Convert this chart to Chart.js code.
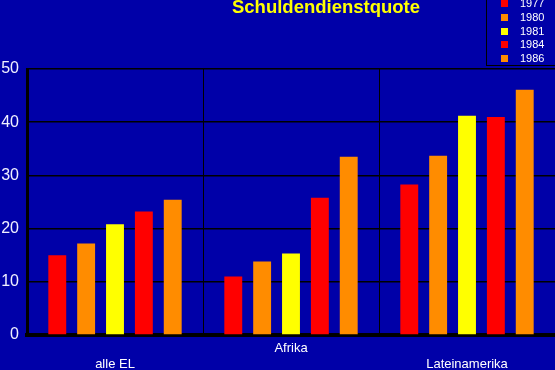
<!DOCTYPE html>
<html>
<head>
<meta charset="utf-8">
<script src="https://cdn.jsdelivr.net/npm/chart.js@4"></script>
<style>
  html, body { margin: 0; padding: 0; background: #0000A8; }
  #wrap { width: 555px; height: 370px; }
</style>
</head>
<body>
<div id="wrap"><canvas id="chart"></canvas></div>
<script>
const titel = 'Schuldendienstquote';
const regionen = ['alle EL', 'Afrika', 'Lateinamerika'];
const jahre = ['1977', '1980', '1981', '1984', '1986'];
const farben = ['#FF0000', '#FF8C00', '#FFFF00', '#FF0000', '#FF8C00'];

const werte1977 = [15.0, 11.0, 28.3];
const werte1980 = [17.2, 13.8, 33.7];
const werte1981 = [20.8, 15.3, 41.2];
const werte1984 = [23.2, 25.8, 41.0];
const werte1986 = [25.4, 33.5, 46.1];

const yTicks = [0, 10, 20, 30, 40, 50];

const alleWerte = [werte1977, werte1980, werte1981, werte1984, werte1986];

const datasets = jahre.map((jahr, i) => {
    return {
        label: jahr,
        data: alleWerte[i],
        backgroundColor: farben[i],
        borderWidth: 0,
        categoryPercentage: 0.82,
        barPercentage: 0.62,
    };
});

// titel und legende selbst zeichnen (sitzen nicht mittig)
const extraZeichnen = {
    id: 'extraZeichnen',
    afterDraw(chart) {
        const ctx = chart.ctx;
        ctx.save();
        ctx.fillStyle = '#FFFF00';
        ctx.font = 'bold 18.5px "Liberation Sans", Arial, sans-serif';
        ctx.textAlign = 'center';
        ctx.textBaseline = 'middle';
        ctx.fillText(titel, 326, 8);

        // legende
        ctx.strokeStyle = '#000000';
        ctx.lineWidth = 1;
        ctx.strokeRect(486.5, -2, 80, 67.5);
        ctx.font = '11px "Liberation Sans", Arial, sans-serif';
        ctx.textAlign = 'left';
        chart.data.datasets.forEach((ds, i) => {
            const y = 3.5 + i * 13.8;
            ctx.fillStyle = ds.backgroundColor;
            ctx.fillRect(501, Math.round(y - 3.5), 7, 7);
            ctx.fillStyle = '#FFFFFF';
            ctx.fillText(ds.label, 520, y + 0.5);
        });
        ctx.restore();
    }
};

const config = {
    type: 'bar',
    data: { labels: regionen, datasets },
    options: {
        responsive: true,
        maintainAspectRatio: false,
        animation: false,
        layout: { padding: { top: 69, right: 0, left: 0, bottom: 0 } },
        plugins: {
            legend: { display: false },
            title: { display: false },
            tooltip: { enabled: false },
        },
        scales: {
            x: {
                grid: { color: '#000000', lineWidth: 1, drawTicks: false, offset: true },
                border: { color: '#000000', width: 4 },
                ticks: {
                    color: '#FFFFFF',
                    font: { family: '"Liberation Sans", Arial, sans-serif', size: 13 },
                    padding: 6,
                    maxRotation: 0,
                    autoSkip: false,
                    callback: function (value, index) {
                        const name = regionen[index];
                        return index === 1 ? [name] : ['', name];
                    },
                },
                afterFit: (scale) => { scale.height = 35; },
            },
            y: {
                min: 0,
                max: 50,
                afterBuildTicks: (scale) => {
                    scale.ticks = yTicks.map((v) => ({ value: v }));
                },
                grid: { color: '#000000', lineWidth: 1.5, drawTicks: false },
                border: { color: '#000000', width: 3 },
                ticks: {
                    color: '#F0F0FF',
                    font: { family: '"Liberation Sans", Arial, sans-serif', size: 16 },
                    padding: 8,
                },
                afterFit: (scale) => { scale.width = 27; },
            },
        },
    },
    plugins: [extraZeichnen],
};

const canvas = document.getElementById('chart');
new Chart(canvas, config);
</script>
</body>
</html>
